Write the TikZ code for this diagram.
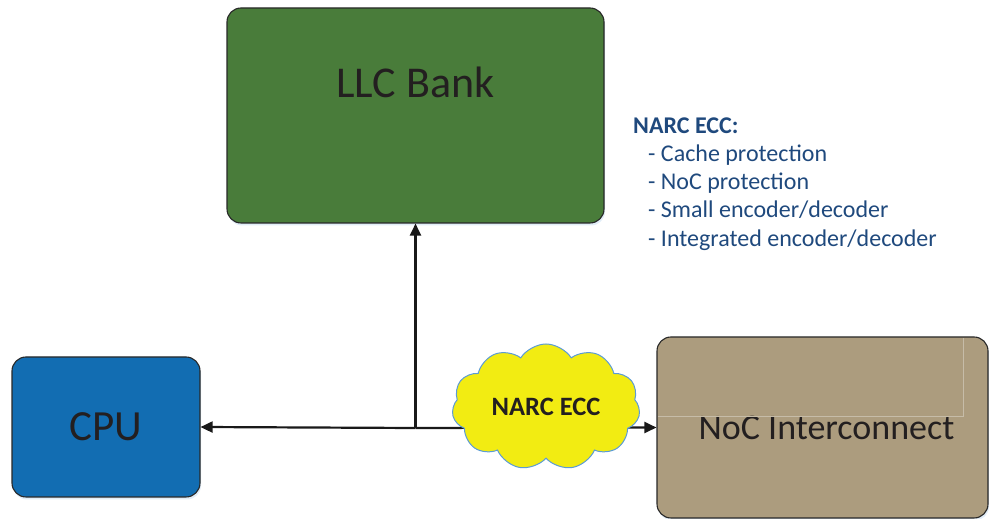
\documentclass[tikz,border=0pt]{standalone}
\usepackage{fontspec}
\setmainfont{Carlito}
\usetikzlibrary{arrows.meta,shapes.symbols,shadows}

\definecolor{llcgreen}{RGB}{73,124,58}
\definecolor{cpublue}{RGB}{18,109,178}
\definecolor{noctan}{RGB}{172,156,126}
\definecolor{cloudyellow}{RGB}{242,236,18}
\definecolor{cloudedge}{RGB}{91,155,213}
\definecolor{listblue}{RGB}{31,73,125}
\definecolor{inktext}{RGB}{35,31,32}
\definecolor{boxedge}{RGB}{40,40,40}
\definecolor{seamline}{RGB}{198,188,168}

\tikzset{
  unitbox/.style={draw=boxedge, line width=1.1pt, rounded corners=14pt,
    inner sep=0pt, text=inktext,
    drop shadow={shadow xshift=1pt, shadow yshift=-2.5pt, fill=cloudedge!40, opacity=0.45}},
  link/.style={line width=2.2pt, draw=black!90,
    -{Triangle[length=12pt,width=11pt]}},
  listline/.style={anchor=base west, inner sep=0pt, text=listblue, font=\fontsize{24}{28}\selectfont},
}

\begin{document}
\begin{tikzpicture}[x=1pt,y=1pt]
\useasboundingbox (0,0) rectangle (989,519);

% the three units
\node[unitbox, fill=llcgreen, minimum width=377pt, minimum height=215pt] (llc) at (415.5,403.5) {};
\node[text=inktext, font=\fontsize{44}{48}\selectfont] (llctext) at (415.5,437) {LLC Bank};

\node[unitbox, fill=cpublue, minimum width=188pt, minimum height=140pt,
      font=\fontsize{43}{48}\selectfont] (cpu) at (106,92) {CPU};

\node[unitbox, fill=noctan, minimum width=331pt, minimum height=181pt,
      font=\fontsize{36}{40}\selectfont] (noc) at (822.5,91.5) {\hspace*{8pt}NoC Interconnect};
% faint seams inside the interconnect box
\draw[seamline, line width=0.8pt] (658,103) -- (963,103) -- (963,181);

% connections from the junction point
\coordinate (j) at (415.5,91);
\draw[link] (j) -- (cpu.east);
\draw[link] (j) -- (noc.west);
\draw[link] (j) -- (llc.south);

% protection cloud on the link
\node[cloud, cloud puffs=11, cloud puff arc=115, aspect=1.5,
      draw=cloudedge, line width=1pt, fill=cloudyellow,
      minimum width=188pt, minimum height=126pt, inner sep=0pt,
      text=inktext, font=\bfseries\fontsize{26.5}{30}\selectfont] (ecc) at (546,112) {NARC ECC};

% feature list
\node[listline, font=\bfseries\fontsize{24}{28}\selectfont] (h) at (633,385) {NARC ECC:};
\node[listline] (l1) at (648,357) {- Cache protection};
\node[listline] (l2) at (648,329) {- NoC protection};
\node[listline] (l3) at (648,301) {- Small encoder/decoder};
\node[listline] (l4) at (648,272.5) {- Integrated encoder/decoder};
\end{tikzpicture}
\end{document}
